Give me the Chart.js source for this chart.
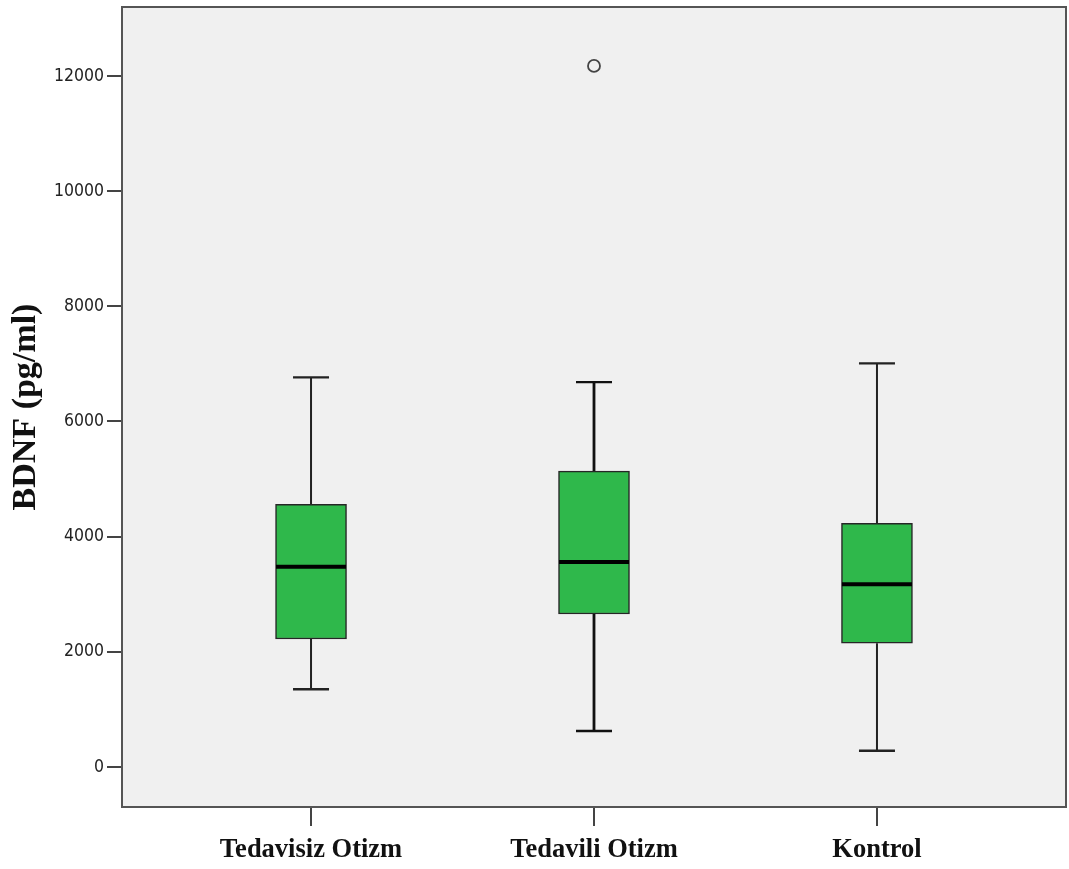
<!DOCTYPE html>
<html>
<head>
<meta charset="utf-8">
<script src="https://cdn.jsdelivr.net/npm/chart.js@4.4.1/dist/chart.umd.min.js"></script>
<style>
html,body{margin:0;padding:0;background:#fff;}
canvas{display:block;}
</style>
</head>
<body>
<canvas id="c" width="1069" height="869"></canvas>
<script>
// ---- data ----
const categories = ["Tedavisiz Otizm", "Tedavili Otizm", "Kontrol"];
const whiskerMin = [1349, 625, 283];
const q1 = [2222, 2656, 2148];
const medians = [3478, 3559, 3172];
const q3 = [4561, 5139, 4231];
const whiskerMax = [6766, 6684, 7009];
const outlierGroup = [1];
const outlierValue = [12175];
const yTicks = [0, 2000, 4000, 6000, 8000, 10000, 12000];
const yTitle = "BDNF (pg/ml)";

const boxData = categories.map((c, i) => ({ x: i, y: [q1[i], q3[i]] }));
const outlierData = outlierGroup.map((g, i) => ({ x: g, y: outlierValue[i] }));

const framePlugin = {
  id: 'frame',
  beforeDraw(chart) {
    const { ctx, chartArea: a } = chart;
    ctx.save();
    ctx.fillStyle = '#f0f0f0';
    ctx.fillRect(a.left, a.top, a.right - a.left, a.bottom - a.top);
    ctx.restore();
  },
  beforeDatasetsDraw(chart) {
    const { ctx, scales: { x, y } } = chart;
    ctx.save();
    ctx.strokeStyle = '#222';
    ctx.lineCap = 'butt';
    categories.forEach((c, i) => {
      const cx = x.getPixelForValue(i);
      const half = 18;
      ctx.lineWidth = i === 1 ? 2.8 : 2;
      ctx.strokeStyle = i === 1 ? '#111' : '#222';
      ctx.beginPath();
      ctx.moveTo(cx, y.getPixelForValue(whiskerMax[i]));
      ctx.lineTo(cx, y.getPixelForValue(q3[i]));
      ctx.moveTo(cx, y.getPixelForValue(q1[i]));
      ctx.lineTo(cx, y.getPixelForValue(whiskerMin[i]));
      ctx.stroke();
      ctx.lineWidth = 2.4;
      ctx.beginPath();
      [whiskerMax[i], whiskerMin[i]].forEach(v => {
        const py = y.getPixelForValue(v);
        ctx.moveTo(cx - half, py);
        ctx.lineTo(cx + half, py);
      });
      ctx.stroke();
    });
    ctx.restore();
  },
  afterDatasetsDraw(chart) {
    const { ctx, scales: { x, y } } = chart;
    ctx.save();
    ctx.strokeStyle = '#000';
    ctx.lineWidth = 4;
    categories.forEach((c, i) => {
      const cx = x.getPixelForValue(i);
      const half = 35;
      const py = y.getPixelForValue(medians[i]);
      ctx.beginPath();
      ctx.moveTo(cx - half, py);
      ctx.lineTo(cx + half, py);
      ctx.stroke();
    });
    ctx.restore();
  },
  afterDraw(chart) {
    const { ctx, chartArea: a } = chart;
    ctx.save();
    ctx.strokeStyle = '#555';
    ctx.lineWidth = 2;
    ctx.strokeRect(a.left, a.top, a.right - a.left, a.bottom - a.top);
    ctx.restore();
  }
};

new Chart(document.getElementById('c'), {
  type: 'bar',
  data: {
    datasets: [
      {
        type: 'bar',
        data: boxData,
        backgroundColor: '#2fb84b',
        borderColor: '#262626',
        borderWidth: 1.5,
        borderSkipped: false,
        barThickness: 71
      },
      {
        type: 'scatter',
        data: outlierData,
        pointRadius: 6,
        pointStyle: 'circle',
        backgroundColor: 'rgba(0,0,0,0)',
        borderColor: '#444',
        borderWidth: 1.8
      }
    ]
  },
  options: {
    responsive: false,
    animation: false,
    devicePixelRatio: 1,
    layout: { autoPadding: false, padding: { top: 7, right: 3, left: 0, bottom: 0 } },
    plugins: { legend: { display: false }, tooltip: { enabled: false } },
    scales: {
      x: {
        type: 'linear',
        offset: false,
        min: -0.668,
        max: 2.668,
        afterBuildTicks: s => { s.ticks = categories.map((c, i) => ({ value: i })); },
        afterFit: s => { s.height = 62; s.paddingLeft = 0; s.paddingRight = 0; },
        border: { display: false },
        grid: { display: true, offset: false, drawOnChartArea: false, drawTicks: true, tickLength: 19, color: '#444', lineWidth: 2 },
        ticks: {
          autoSkip: false,
          maxRotation: 0,
          padding: 8,
          color: '#111',
          font: { family: "'Liberation Serif', 'Times New Roman', serif", size: 26.5, weight: 'bold' },
          callback: v => categories[v]
        }
      },
      y: {
        type: 'linear',
        min: -695,
        max: 13198,
        afterBuildTicks: s => { s.ticks = yTicks.map(v => ({ value: v })); },
        afterFit: s => { s.width = 122; s.paddingTop = 0; s.paddingBottom = 0; },
        border: { display: false },
        grid: { display: true, drawOnChartArea: false, drawTicks: true, tickLength: 15, color: '#444', lineWidth: 2 },
        ticks: {
          padding: 3,
          color: '#222',
          font: { family: "'DejaVu Sans Condensed', 'Liberation Sans', sans-serif", size: 17.5 },
          callback: v => String(v)
        },
        title: {
          display: true,
          text: yTitle,
          color: '#111',
          padding: { top: 6, bottom: 0 },
          font: { family: "'Liberation Serif', 'Times New Roman', serif", size: 34, weight: 'bold' }
        }
      }
    }
  },
  plugins: [framePlugin]
});
</script>
</body>
</html>
